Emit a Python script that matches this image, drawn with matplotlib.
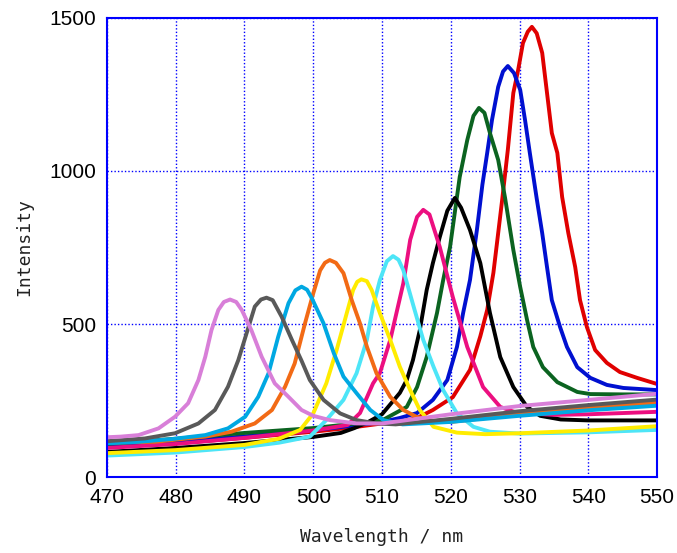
import matplotlib
matplotlib.use("Agg")
import matplotlib.pyplot as plt

# emission spectra, one list of wavelengths / intensities per sample
wl_violet = [470, 472, 474.6, 477.5, 479.9, 481.8, 483.3, 484.3, 485.2, 486.2, 487, 487.9, 488.8, 489.6, 491,
             492.5, 494.4, 496.4, 498.3, 500, 502.4, 506.3, 510, 520, 530, 540, 550]
it_violet = [130, 132, 137, 159, 197, 241, 317, 393, 480, 546, 572, 580, 572, 546, 480,
             393, 306, 262, 219, 200, 186, 175, 175, 205, 232, 252, 272]

wl_gray = [470, 475.5, 479.9, 483.3, 485.7, 487.6, 489.1, 490.6, 491.5, 492.4, 493.2, 494.1, 495.4, 496.9,
           498.3, 499.5, 501.5, 503.9, 506.3, 509.2, 512, 520, 530, 540, 550]
it_gray = [117, 126, 143, 175, 219, 295, 382, 491, 557, 580, 586, 578, 524, 448,
           380, 317, 252, 208, 186, 175, 172, 190, 215, 235, 253]

wl_lblue = [470, 474.6, 479.4, 484.3, 487.6, 490.1, 492, 493.5, 494.9, 496.4, 497.4, 498.3, 499.1, 499.8,
            501.5, 503, 504.4, 506.3, 508.3, 510.2, 513, 520, 530, 540, 550]
it_lblue = [110, 115, 124, 137, 159, 197, 262, 339, 458, 568, 610, 622, 612, 584,
            502, 404, 328, 274, 219, 186, 172, 180, 200, 218, 233]

wl_orange = [470, 477, 484.3, 488.1, 491.5, 494, 495.9, 497.3, 498.8, 500, 501, 501.7, 502.4, 503.3, 504.4,
             505.6, 506.8, 507.8, 509.2, 511.2, 513.1, 515, 518, 520, 530, 540, 550]
it_orange = [112, 115, 132, 148, 175, 219, 295, 371, 502, 600, 675, 700, 709, 700, 666,
             578, 502, 426, 339, 262, 219, 197, 180, 180, 205, 225, 243]

wl_yellow = [470, 480, 490, 495, 498.1, 500, 501.9, 503.4, 504.6, 505.8, 506.4, 507, 507.8, 508.5, 509.7,
             511.2, 512.6, 514.1, 515.5, 517.5, 520.9, 525, 530, 540, 550]
it_yellow = [78, 88, 105, 125, 154, 208, 306, 415, 513, 611, 638, 646, 640, 611, 535,
             448, 360, 284, 219, 164, 145, 140, 143, 152, 166]

wl_cyan = [470, 480, 490, 495, 499.5, 501.9, 504.4, 506.3, 507.8, 508.7, 509.7, 510.7, 511.6, 512.4, 513.1,
           514.6, 516, 517.5, 518.9, 520.9, 523.3, 525.7, 530, 540, 550]
it_cyan = [70, 80, 98, 112, 132, 186, 252, 339, 448, 557, 644, 705, 722, 710, 676,
           557, 448, 360, 284, 208, 164, 148, 142, 146, 154]

wl_magenta = [470, 480, 490, 500, 505, 506.8, 508.7, 509.7, 511.2, 513.1, 514.1, 515.1, 516, 516.9, 518.4,
              520.3, 522.4, 524.7, 527.2, 529.6, 535, 540, 550]
it_magenta = [95, 108, 128, 152, 170, 209, 306, 340, 448, 633, 775, 850, 873, 858, 752,
              588, 425, 294, 229, 210, 203, 205, 213]

wl_black = [470, 480, 490, 500, 504, 506, 508, 510, 512.6, 513.6, 514.5, 515.5, 516.5, 517.4, 518.4,
            519.5, 520.6, 521.5, 522.8, 524.3, 525.7, 527.2, 529.1, 531.1, 533, 536, 540, 545, 550]
it_black = [82, 95, 111, 131, 144, 160, 180, 205, 275, 317, 382, 480, 611, 699, 784,
            870, 912, 880, 807, 699, 536, 392, 294, 229, 200, 188, 185, 185, 185]

wl_green = [470, 480, 490, 500, 505, 510, 513.6, 515.1, 516.5, 518, 518.9, 519.9, 521.3, 522.4, 523.3, 524.1,
            524.9, 525.7, 526.9, 527.9, 529.1, 530.1, 531.1, 532, 533.4, 535.5, 538.4, 540.3, 545, 550]
it_green = [108, 125, 144, 160, 172, 185, 229, 294, 392, 536, 644, 752, 980, 1101, 1180, 1206,
            1190, 1124, 1036, 912, 742, 621, 513, 425, 359, 310, 278, 271, 270, 270]

wl_blue = [470, 480, 490, 500, 505, 510, 512.6, 515.1, 517.4, 519.5, 520.9, 521.8, 522.8, 523.8, 524.6,
           525.3, 526, 526.9, 527.6, 528.3, 529.2, 530.1, 530.8, 531.5, 532.5, 533.3, 534, 534.7, 535.9,
           536.9, 538.4, 540.3, 542.7, 545.1, 550]
it_blue = [103, 115, 133, 153, 166, 180, 193, 209, 252, 317, 425, 536, 644, 807, 955,
           1059, 1167, 1275, 1325, 1343, 1320, 1265, 1167, 1059, 910, 797, 686, 578, 490,
           425, 359, 324, 301, 291, 284]

wl_red = [470, 480, 490, 500, 505, 510, 512.6, 515.1, 517.4, 520.3, 522.8, 524.3, 525.3, 526.2, 526.7,
          527.5, 528.3, 529.1, 529.8, 530.5, 531.2, 531.8, 532.5, 533.3, 534, 534.7, 535.5, 536.2, 537.1,
          538.1, 538.8, 539.8, 541, 542.7, 544.6, 547.1, 550]
it_red = [98, 110, 128, 148, 160, 175, 180, 193, 219, 261, 350, 460, 546, 667, 760,
          910, 1069, 1255, 1330, 1418, 1455, 1471, 1450, 1386, 1255, 1124, 1059, 915, 797,
          686, 578, 490, 415, 373, 343, 324, 304]

spectra = [
    (wl_red, it_red, "#e00000"),
    (wl_blue, it_blue, "#0010d0"),
    (wl_green, it_green, "#0b6320"),
    (wl_black, it_black, "#000000"),
    (wl_magenta, it_magenta, "#ec0f80"),
    (wl_cyan, it_cyan, "#4de5f7"),
    (wl_yellow, it_yellow, "#ffec00"),
    (wl_orange, it_orange, "#f26a15"),
    (wl_lblue, it_lblue, "#00a8e2"),
    (wl_gray, it_gray, "#595959"),
    (wl_violet, it_violet, "#d87fd8"),
]

fig = plt.figure(figsize=(6.77, 5.53), dpi=100)
ax = fig.add_axes([0.158, 0.1374, 0.8125, 0.8301])

for wl, it, col in spectra:
    ax.plot(wl, it, color=col, lw=2.8, solid_joinstyle="round", solid_capstyle="round")

ax.set_xlim(470, 550)
ax.set_ylim(0, 1500)
ax.set_xticks(range(470, 551, 10))
ax.set_yticks([0, 500, 1000, 1500])
ax.grid(True, color="#0000ff", linestyle=(0, (1, 1.5)), linewidth=1.0)
ax.set_axisbelow(True)
for s in ax.spines.values():
    s.set_color("#0000ff")
    s.set_linewidth(1.5)

ax.tick_params(length=0, pad=8, labelsize=15)
for lab in ax.get_xticklabels() + ax.get_yticklabels():
    lab.set_family("Liberation Sans")

ax.set_xlabel("Wavelength / nm", family="DejaVu Sans Mono", fontsize=13, color="#222222", va="center")
ax.set_ylabel("Intensity", family="DejaVu Sans Mono", fontsize=13, color="#222222", va="center")
ax.xaxis.set_label_coords(0.5, -0.131)
ax.yaxis.set_label_coords(-0.151, 0.5)

fig.savefig("out.png", dpi=100)
